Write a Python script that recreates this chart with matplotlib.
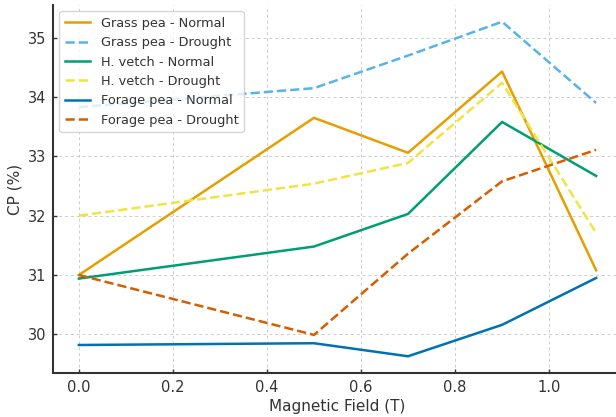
import matplotlib
matplotlib.use("Agg")
import matplotlib.pyplot as plt

field = [0.0, 0.5, 0.7, 0.9, 1.1]
grass_normal = [31.00, 33.65, 33.06, 34.43, 31.08]
grass_drought = [33.83, 34.15, 34.70, 35.27, 33.90]
vetch_normal = [30.94, 31.48, 32.03, 33.58, 32.67]
vetch_drought = [32.00, 32.54, 32.89, 34.24, 31.71]
forage_normal = [29.82, 29.85, 29.63, 30.16, 30.95]
forage_drought = [31.00, 29.99, 31.36, 32.58, 33.11]

series = [
    ("Grass pea - Normal", grass_normal, "#E69F00", "-"),
    ("Grass pea - Drought", grass_drought, "#56B4E9", "--"),
    ("H. vetch - Normal", vetch_normal, "#009E73", "-"),
    ("H. vetch - Drought", vetch_drought, "#F0E442", "--"),
    ("Forage pea - Normal", forage_normal, "#0072B2", "-"),
    ("Forage pea - Drought", forage_drought, "#D55E00", "--"),
]

fig = plt.figure(figsize=(6.16, 4.17), dpi=100)
ax = fig.add_axes([53/616, 1-373/417, 569/616, 368/417])
for label, vals, color, ls in series:
    ax.plot(field, vals, ls, color=color, label=label, linewidth=1.8)

ax.grid(True, linestyle=(0, (3, 3)), color="#cccccc", linewidth=0.7)
ax.set_axisbelow(True)
for s in ["top", "right"]:
    ax.spines[s].set_visible(False)
for s in ["left", "bottom"]:
    ax.spines[s].set_color("#333333")
    ax.spines[s].set_linewidth(1.5)
ax.tick_params(direction="in", length=3, width=1, labelsize=10.5,
               colors="#333333", pad=5)
ax.set_xlabel("Magnetic Field (T)", fontsize=11, color="#333333", labelpad=3)
ax.set_ylabel("CP (%)", fontsize=11, color="#333333", labelpad=4)
ax.set_xticks([0.0, 0.2, 0.4, 0.6, 0.8, 1.0])
ax.set_yticks([30, 31, 32, 33, 34, 35])
leg = ax.legend(loc="upper left", fontsize=9.3, frameon=True)
for t in leg.get_texts():
    t.set_color("#333333")

fig.savefig("out.png", dpi=100)
